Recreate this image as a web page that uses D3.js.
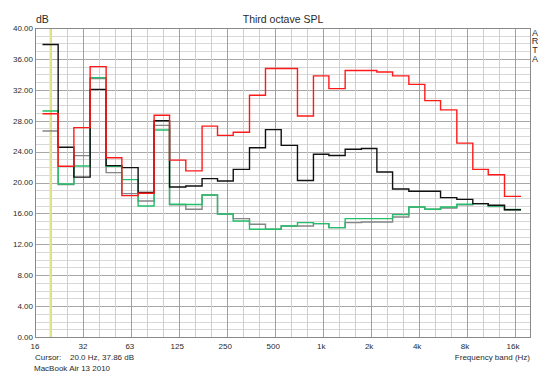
<!DOCTYPE html>
<html>
<head>
<meta charset="utf-8">
<script src="https://cdn.jsdelivr.net/npm/d3@7"></script>
<style>
  body { margin: 0; background: #fff; }
  text { font-family: "Liberation Sans", Arial, sans-serif; fill: #2a2a2a; }
</style>
</head>
<body>
<div class="chart"></div>
<script>
// third octave band centres (Hz)
var bands = [20, 25, 31.5, 40, 50, 63, 80, 100, 125, 160, 200, 250, 315, 400, 500, 630,
    800, 1000, 1250, 1600, 2000, 2500, 3150, 4000, 5000, 6300, 8000, 10000, 12500, 16000];

// SPL per band (dB)
var redSpl = [28.9, 22.1, 27.1, 35.0, 23.2, 18.3, 18.6, 28.7, 22.9, 21.5, 27.3, 26.1, 26.5, 31.3,
    34.75, 34.75, 28.6, 33.8, 32.15, 34.5, 34.5, 34.3, 33.8, 32.7, 30.6, 29.4, 25.1, 21.7, 21.0, 18.2];
var blackSpl = [37.86, 24.56, 20.7, 32.06, 22.19, 21.93, 18.72, 28.0, 19.42, 19.55, 20.5, 20.2, 21.7, 24.5,
    26.85, 24.8, 20.25, 23.65, 23.5, 24.3, 24.4, 21.36, 19.15, 18.86, 18.86, 18.04, 17.82, 17.27, 17.05, 16.49];
var greenSpl = [29.26, 19.8, 22.14, 33.58, 22.1, 20.37, 16.96, 26.8, 17.18, 17.15, 18.38, 15.92, 15.02, 13.94,
    13.94, 14.37, 14.8, 14.68, 14.16, 15.32, 15.32, 15.32, 15.84, 16.83, 16.53, 16.83, 17.18, 17.27, 16.96, 16.5];
var graySpl = [26.67, 19.73, 23.48, 33.45, 21.28, 18.56, 17.6, 27.4, 17.1, 16.53, 18.38, 15.92, 15.32, 14.59,
    13.94, 14.37, 14.37, 14.68, 14.16, 14.8, 14.89, 14.89, 15.54, 16.83, 16.53, 16.7, 17.1, 17.27, 16.9, 16.4];

// axis ticks
var xTicks = [16, 32, 63, 125, 250, 500, 1000, 2000, 4000, 8000, 16000];
var xTickLabels = ["16", "32", "63", "125", "250", "500", "1k", "2k", "4k", "8k", "16k"];
var yTicks = [0, 4, 8, 12, 16, 20, 24, 28, 32, 36, 40];

var svgWidth = 547;
var svgHeight = 375;

var margin = { top: 28, right: 17, bottom: 38, left: 35 };
var width = svgWidth - margin.left - margin.right;
var height = svgHeight - margin.top - margin.bottom;

var svg = d3.select(".chart")
    .append("svg")
    .attr("width", svgWidth)
    .attr("height", svgHeight);

var chartGroup = svg.append("g")
    .attr("transform", `translate(${margin.left}, ${margin.top})`);

// scales
var xLogScale = d3.scaleLog()
    .domain([16, 20440])
    .range([0, width]);

var yLinearScale = d3.scaleLinear()
    .domain([0, 40])
    .range([height, 0]);

// horizontal grid: 1 dB minor, 4 dB major
var minorY = d3.range(0, 41).filter(d => d % 4 != 0);
chartGroup.selectAll(".hminor")
    .data(minorY)
    .enter()
    .append("line")
    .attr("x1", 0)
    .attr("x2", width)
    .attr("y1", d => Math.round(yLinearScale(d)) + 0.5)
    .attr("y2", d => Math.round(yLinearScale(d)) + 0.5)
    .attr("stroke", "#d8d8d8");

chartGroup.selectAll(".hmajor")
    .data(yTicks)
    .enter()
    .append("line")
    .attr("x1", 0)
    .attr("x2", width)
    .attr("y1", d => Math.round(yLinearScale(d)) + 0.5)
    .attr("y2", d => Math.round(yLinearScale(d)) + 0.5)
    .attr("stroke", "#a8a8a8");

// vertical grid: every third octave, octaves darker
var thirdLines = d3.range(1, 32).map(k => 16 * Math.pow(2, k / 3)).filter(f => f < 20440);
chartGroup.selectAll(".vline")
    .data(thirdLines)
    .enter()
    .append("line")
    .attr("x1", d => Math.round(xLogScale(d)) + 0.5)
    .attr("x2", d => Math.round(xLogScale(d)) + 0.5)
    .attr("y1", 0)
    .attr("y2", height)
    .attr("stroke", (d, i) => (i + 1) % 3 == 0 ? "#a0a0a0" : "#cfcfcf");

// cursor at 20 Hz
chartGroup.append("line")
    .attr("x1", xLogScale(20))
    .attr("x2", xLogScale(20))
    .attr("y1", 0)
    .attr("y2", height)
    .attr("stroke", "#e4e48a")
    .attr("stroke-width", 2);

// frame
chartGroup.append("rect")
    .attr("x", 0.5)
    .attr("y", 0.5)
    .attr("width", width)
    .attr("height", height)
    .attr("fill", "none")
    .attr("stroke", "#8a8a8a");

// band edges: geometric mean between neighbouring centres
var edges = bands.map((f, i) => i == 0 ? f / Math.pow(2, 1 / 6) : Math.sqrt(bands[i - 1] * f));
edges.push(bands[bands.length - 1] * Math.pow(2, 1 / 6));

var stepLine = d3.line()
    .x(d => xLogScale(d[0]))
    .y(d => yLinearScale(d[1]))
    .curve(d3.curveStepAfter);

function stepPoints(values) {
    var pts = values.map((v, i) => [edges[i], v]);
    pts.push([edges[edges.length - 1], values[values.length - 1]]);
    return pts;
}

var series = [
    { values: graySpl, color: "#858585" },
    { values: greenSpl, color: "#25bf6b" },
    { values: blackSpl, color: "#111111" },
    { values: redSpl, color: "#ff1a1a" }
];

chartGroup.selectAll(".spl")
    .data(series)
    .enter()
    .append("path")
    .attr("d", d => stepLine(stepPoints(d.values)))
    .attr("fill", "none")
    .attr("stroke", d => d.color)
    .attr("stroke-width", 1.4);

// y tick labels
chartGroup.selectAll(".ylab")
    .data(yTicks)
    .enter()
    .append("text")
    .attr("x", -2)
    .attr("y", d => yLinearScale(d))
    .attr("dy", "0.35em")
    .attr("text-anchor", "end")
    .attr("font-size", "8px")
    .text(d => d.toFixed(2));

// x tick labels
chartGroup.selectAll(".xlab")
    .data(xTicks)
    .enter()
    .append("text")
    .attr("x", d => xLogScale(d))
    .attr("y", height + 12)
    .attr("text-anchor", "middle")
    .attr("font-size", "8px")
    .text((d, i) => xTickLabels[i]);

// titles and notes
svg.append("text")
    .attr("x", 283)
    .attr("y", 23)
    .attr("text-anchor", "middle")
    .attr("font-size", "10.5px")
    .text("Third octave SPL");

svg.append("text")
    .attr("x", 36)
    .attr("y", 23)
    .attr("font-size", "10.5px")
    .text("dB");

svg.selectAll(".arta")
    .data(["A", "R", "T", "A"])
    .enter()
    .append("text")
    .attr("x", 535)
    .attr("y", (d, i) => 35.5 + i * 8.7)
    .attr("text-anchor", "middle")
    .attr("font-size", "9px")
    .text(d => d);

svg.append("text")
    .attr("x", 35)
    .attr("y", 360)
    .attr("font-size", "8px")
    .text("Cursor:");

svg.append("text")
    .attr("x", 70)
    .attr("y", 360)
    .attr("font-size", "8px")
    .text("20.0 Hz, 37.86 dB");

svg.append("text")
    .attr("x", 530)
    .attr("y", 360)
    .attr("text-anchor", "end")
    .attr("font-size", "8px")
    .text("Frequency band (Hz)");

svg.append("text")
    .attr("x", 34)
    .attr("y", 371)
    .attr("font-size", "8px")
    .text("MacBook Air 13 2010");
</script>
</body>
</html>
